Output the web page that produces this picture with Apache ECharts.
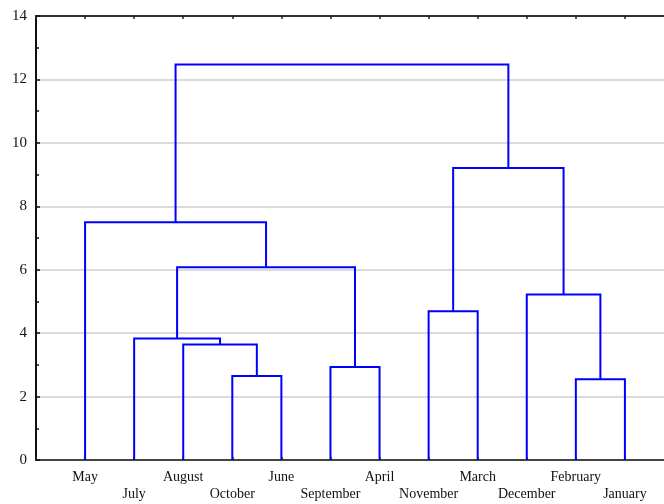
<!DOCTYPE html>
<html>
<head>
<meta charset="utf-8">
<script src="https://cdn.jsdelivr.net/npm/echarts@6/dist/echarts.min.js"></script>
<style>
  html, body { margin: 0; padding: 0; background: #fff; }
  #chart { width: 664px; height: 504px; }
</style>
</head>
<body>
<div id="chart"></div>
<script>
// Leaf order along the horizontal axis (left to right)
const leaves = ['May', 'July', 'August', 'October', 'June', 'September', 'April',
                'November', 'March', 'December', 'February', 'January'];

// Agglomeration steps: [left node, right node, linkage distance].
// Nodes 0..11 are leaves; each step creates node 12, 13, ...
const mergeLeft   = [3, 2, 1, 5, 14, 0, 7, 10, 9, 18, 17];
const mergeRight  = [4, 12, 13, 6, 15, 16, 8, 11, 19, 20, 21];
const mergeHeight = [2.65, 3.64, 3.83, 2.93, 6.08, 7.50, 4.69, 2.55, 5.22, 9.21, 12.47];

const yTicks = [0, 2, 4, 6, 8, 10, 12, 14];

// Node positions: leaves sit at 1..n, clusters at the midpoint of their children
const nodeX = leaves.map((_, i) => i + 1);
const nodeY = leaves.map(() => 0);
const links = [];
for (let k = 0; k < mergeHeight.length; k++) {
  const a = mergeLeft[k], b = mergeRight[k], h = mergeHeight[k];
  links.push([nodeX[a], nodeX[b], nodeY[a], nodeY[b], h]);
  nodeX.push((nodeX[a] + nodeX[b]) / 2);
  nodeY.push(h);
}

const serif = '"Liberation Serif", "DejaVu Serif", serif';
const chart = echarts.init(document.getElementById('chart'));

chart.setOption({
  animation: false,
  backgroundColor: '#ffffff',
  // the plot frame runs past the right edge of the canvas
  grid: { left: 36, top: 16, height: 444, width: 638, containLabel: false, outerBoundsMode: 'none' },
  xAxis: [
    {
      type: 'value', position: 'bottom', min: 0, max: leaves.length + 1, interval: 1,
      axisLine: { show: true, onZero: false, lineStyle: { color: '#444', width: 2 } },
      axisTick: { show: true, inside: true, length: 3, lineStyle: { color: '#222', width: 1.5 } },
      splitLine: { show: false },
      axisLabel: {
        show: true, margin: 9, color: '#111', fontFamily: serif, fontSize: 14, lineHeight: 17,
        showMinLabel: true, showMaxLabel: true,
        formatter: function (v) {
          const i = Math.round(v) - 1;
          if (i < 0 || i >= leaves.length || Math.abs(v - Math.round(v)) > 1e-6) return '';
          return (i % 2 === 1 ? '\n' : '') + leaves[i];
        }
      }
    },
    {
      type: 'value', position: 'top', min: 0, max: leaves.length + 1, interval: 1,
      axisLine: { show: true, onZero: false, lineStyle: { color: '#333', width: 2 } },
      axisTick: { show: true, inside: true, length: 3, lineStyle: { color: '#222', width: 1.5 } },
      axisLabel: { show: false },
      splitLine: { show: false }
    }
  ],
  yAxis: {
    type: 'value', min: yTicks[0], max: yTicks[yTicks.length - 1], interval: 2,
    axisLine: { show: true, onZero: false, lineStyle: { color: '#111', width: 2 } },
    axisTick: { show: true, inside: true, length: 4, lineStyle: { color: '#111', width: 1.5 } },
    minorTick: { show: true, splitNumber: 2, length: 3, lineStyle: { color: '#111', width: 1.5 } },
    splitLine: { show: true, lineStyle: { color: '#cfcfcf', width: 1.5 } },
    axisLabel: { color: '#111', fontFamily: serif, fontSize: 15, margin: 9,
                 formatter: v => yTicks.includes(v) ? String(v) : '' }
  },
  series: [{
    type: 'custom',
    xAxisIndex: 0,
    coordinateSystem: 'cartesian2d',
    data: links,
    encode: { x: [0, 1], y: [2, 3, 4] },
    renderItem: function (params, api) {
      const xa = api.value(0), xb = api.value(1);
      const ya = api.value(2), yb = api.value(3), h = api.value(4);
      const pts = [api.coord([xa, ya]), api.coord([xa, h]), api.coord([xb, h]), api.coord([xb, yb])];
      return {
        type: 'polyline',
        shape: { points: pts },
        style: { stroke: '#0000ff', lineWidth: 2, fill: null }
      };
    },
    z: 5
  }]
});
</script>
</body>
</html>
